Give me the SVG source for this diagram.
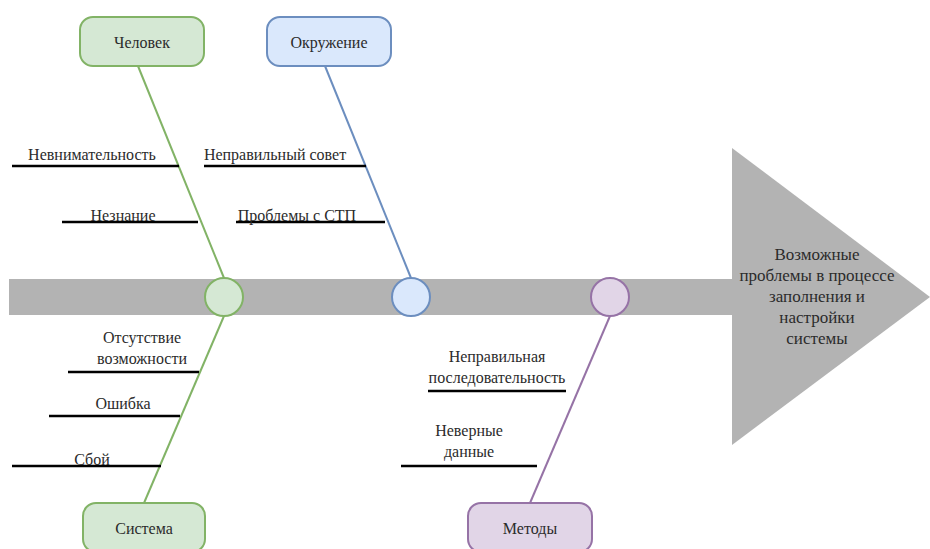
<svg xmlns="http://www.w3.org/2000/svg" width="930" height="549" viewBox="0 0 930 549">
<style>
text{font-family:'Liberation Serif','DejaVu Serif','Times New Roman',serif;font-size:16px;fill:#2b2b2b;text-anchor:middle}
.big{font-size:17px}
.bone{stroke:#000;stroke-width:2.5;fill:none}
.g{fill:#d5e8d4;stroke:#82b366;stroke-width:2}
.b{fill:#dae8fc;stroke:#6c8ebf;stroke-width:2}
.p{fill:#e1d5e7;stroke:#9673a6;stroke-width:2}
.gl{stroke:#82b366;stroke-width:2;fill:none}
.bl{stroke:#6c8ebf;stroke-width:2;fill:none}
.pl{stroke:#9673a6;stroke-width:2;fill:none}
</style>
<rect width="930" height="549" fill="#fff"/>
<g id="spine">
<rect x="9" y="279" width="724" height="36" fill="#b3b3b3"/>
<polygon points="732,148 930,297 732,445" fill="#b3b3b3"/>
<text class="big" x="817" y="260">Возможные</text>
<text class="big" x="817" y="281">проблемы в процессе</text>
<text class="big" x="817" y="302">заполнения и</text>
<text class="big" x="817" y="323">настройки</text>
<text class="big" x="817" y="344">системы</text>
</g>
<g id="connectors">
<line class="gl" x1="138" y1="66" x2="224" y2="278"/>
<line class="bl" x1="325" y1="66" x2="411" y2="278"/>
<line class="gl" x1="224" y1="316" x2="144" y2="503"/>
<line class="pl" x1="610" y1="316" x2="530" y2="503"/>
</g>
<g id="causes">
<line class="bone" x1="12" y1="166" x2="179" y2="166"/>
<text x="92" y="160">Невнимательность</text>
<line class="bone" x1="62" y1="222" x2="198" y2="222"/>
<text x="123" y="221">Незнание</text>
<line class="bone" x1="204" y1="166" x2="366" y2="166"/>
<text x="275" y="160">Неправильный совет</text>
<line class="bone" x1="236" y1="222" x2="385" y2="222"/>
<text x="297" y="221">Проблемы с СТП</text>
<line class="bone" x1="68" y1="372" x2="199" y2="372"/>
<text x="142" y="343">Отсутствие</text>
<text x="142" y="364">возможности</text>
<line class="bone" x1="49" y1="416" x2="180" y2="416"/>
<text x="123" y="409">Ошибка</text>
<line class="bone" x1="12" y1="466" x2="161" y2="466"/>
<text x="92" y="465">Сбой</text>
<line class="bone" x1="428" y1="391" x2="566" y2="391"/>
<text x="497" y="362">Неправильная</text>
<text x="497" y="383">последовательность</text>
<line class="bone" x1="401" y1="466" x2="537" y2="466"/>
<text x="469" y="436">Неверные</text>
<text x="469" y="457">данные</text>
</g>
<g id="circle-human"><circle class="g" cx="224" cy="297" r="19"/></g>
<g id="circle-env"><circle class="b" cx="411" cy="297" r="19"/></g>
<g id="circle-methods"><circle class="p" cx="610" cy="297" r="19"/></g>
<g id="node-human"><rect class="g" x="80" y="17" width="124" height="49" rx="13"/><text x="142" y="48">Человек</text></g>
<g id="node-env"><rect class="b" x="267" y="17" width="124" height="49" rx="13"/><text x="329" y="48">Окружение</text></g>
<g id="node-system"><rect class="g" x="83" y="503" width="122" height="49" rx="13"/><text x="144" y="534">Система</text></g>
<g id="node-methods"><rect class="p" x="468" y="503" width="124" height="49" rx="13"/><text x="530" y="534">Методы</text></g>
</svg>
